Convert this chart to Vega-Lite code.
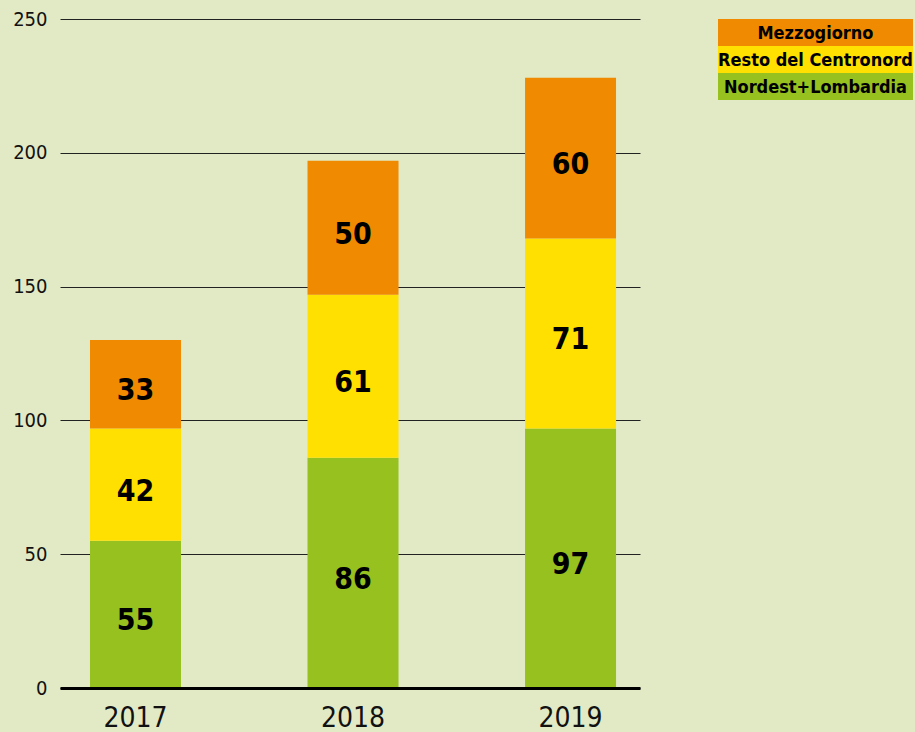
{
  "$schema": "https://vega.github.io/schema/vega-lite/v6.json",
  "background": "#e1eac4",
  "padding": {"left": 0, "top": 9, "right": 2, "bottom": 0},
  "config": {
    "view": {"stroke": null},
    "font": "DejaVu Sans Condensed",
    "axis": {"labelFont": "DejaVu Sans Condensed"},
    "text": {"font": "DejaVu Sans Condensed"}
  },
  "spacing": 78,
  "datasets": {
    "values": [
      {"year": "2017", "area": "Nordest+Lombardia", "rank": 1, "v": 55},
      {"year": "2017", "area": "Resto del Centronord", "rank": 2, "v": 42},
      {"year": "2017", "area": "Mezzogiorno", "rank": 3, "v": 33},
      {"year": "2018", "area": "Nordest+Lombardia", "rank": 1, "v": 86},
      {"year": "2018", "area": "Resto del Centronord", "rank": 2, "v": 61},
      {"year": "2018", "area": "Mezzogiorno", "rank": 3, "v": 50},
      {"year": "2019", "area": "Nordest+Lombardia", "rank": 1, "v": 97},
      {"year": "2019", "area": "Resto del Centronord", "rank": 2, "v": 71},
      {"year": "2019", "area": "Mezzogiorno", "rank": 3, "v": 60}
    ],
    "legend": [
      {"area": "Mezzogiorno"},
      {"area": "Resto del Centronord"},
      {"area": "Nordest+Lombardia"}
    ]
  },
  "hconcat": [
    {
      "width": 580,
      "height": 669,
      "data": {"name": "values"},
      "encoding": {
        "x": {
          "field": "year",
          "type": "nominal",
          "scale": {"paddingInner": 0.5816, "paddingOuter": 0.124, "align": 0.556},
          "axis": {
            "title": null,
            "labelAngle": 0,
            "labelFontSize": 28,
            "labelColor": "#111",
            "labelPadding": 16,
            "ticks": false,
            "domainColor": "#000",
            "domainWidth": 3,
            "zindex": 1
          }
        }
      },
      "layer": [
        {
          "mark": {"type": "bar"},
          "encoding": {
            "y": {
              "field": "v",
              "type": "quantitative",
              "stack": "zero",
              "scale": {"domain": [0, 250], "nice": false},
              "axis": {
                "title": null,
                "values": [0, 50, 100, 150, 200, 250],
                "labelFontSize": 20,
                "labelColor": "#111",
                "labelPadding": 13,
                "ticks": false,
                "domain": false,
                "grid": true,
                "gridColor": "#222",
                "gridWidth": 1,
                "minExtent": 60,
                "maxExtent": 60
              }
            },
            "color": {
              "field": "area",
              "type": "nominal",
              "scale": {
                "domain": ["Mezzogiorno", "Resto del Centronord", "Nordest+Lombardia"],
                "range": ["#f08a00", "#ffe000", "#96c11f"]
              },
              "legend": null
            },
            "order": {"field": "rank", "type": "quantitative"}
          }
        },
        {
          "transform": [
            {"stack": "v", "groupby": ["year"], "sort": [{"field": "rank"}], "as": ["v0", "v1"]},
            {"calculate": "(datum.v0 + datum.v1) / 2", "as": "mid"}
          ],
          "mark": {"type": "text", "fontWeight": "bold", "fontSize": 30, "color": "#000", "baseline": "middle", "dy": 7},
          "encoding": {
            "y": {"field": "mid", "type": "quantitative"},
            "text": {"field": "v", "type": "quantitative"}
          }
        }
      ]
    },
    {
      "width": 195,
      "height": 81,
      "data": {"name": "legend"},
      "encoding": {
        "y": {
          "field": "area",
          "type": "nominal",
          "sort": ["Mezzogiorno", "Resto del Centronord", "Nordest+Lombardia"],
          "scale": {"paddingInner": 0, "paddingOuter": 0},
          "axis": null
        }
      },
      "layer": [
        {
          "mark": {"type": "rect"},
          "encoding": {
            "color": {
              "field": "area",
              "type": "nominal",
              "scale": {
                "domain": ["Mezzogiorno", "Resto del Centronord", "Nordest+Lombardia"],
                "range": ["#f08a00", "#ffe000", "#96c11f"]
              },
              "legend": null
            }
          }
        },
        {
          "mark": {"type": "text", "fontWeight": "bold", "fontSize": 18, "color": "#000", "baseline": "middle", "dy": 1},
          "encoding": {
            "text": {"field": "area", "type": "nominal"}
          }
        }
      ]
    }
  ]
}
